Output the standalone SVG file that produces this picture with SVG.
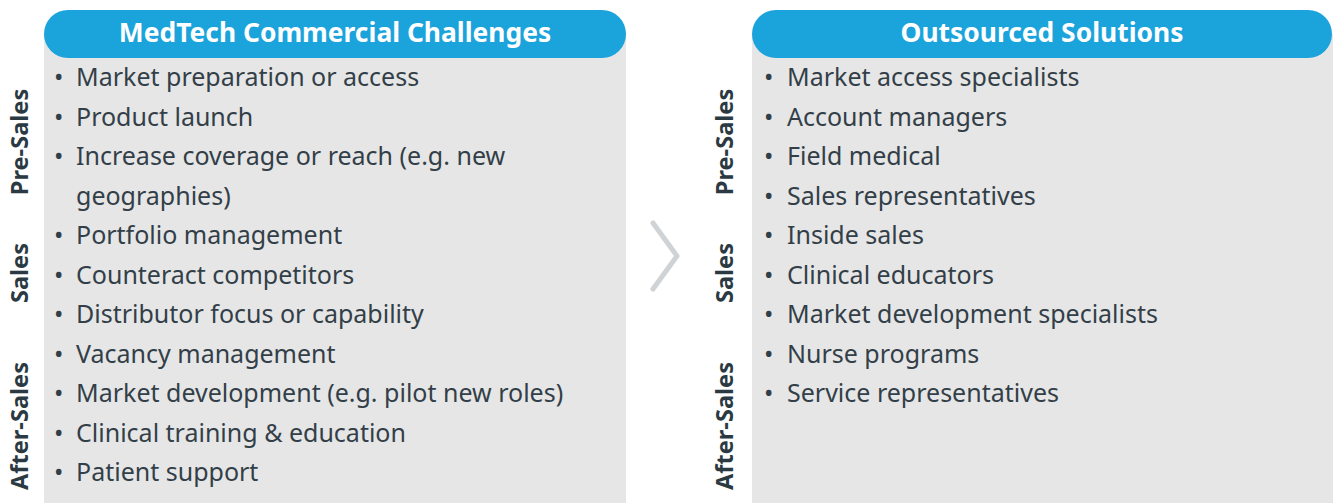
<svg xmlns="http://www.w3.org/2000/svg" width="1333" height="503" viewBox="0 0 1333 503">
<style>
.body{fill:#e6e6e6}
.pill{fill:#1ba3dc}
.hdr{font-family:"Noto Sans","Open Sans",sans-serif;font-weight:bold;font-size:26.4px;fill:#ffffff;text-anchor:middle}
.item{font-family:"Noto Sans","Open Sans",sans-serif;font-size:25px;fill:#333f48}
.side{font-family:"Noto Sans","Open Sans",sans-serif;font-weight:bold;font-size:23.6px;fill:#2b3a42;text-anchor:middle}
</style>
<rect width="1333" height="503" fill="#ffffff"/>
<g id="challenges">
<rect class="body" x="44" y="34" width="582" height="469"/>
<rect class="pill" x="44" y="10" width="582" height="48" rx="24"/>
<text class="hdr" x="335" y="42">MedTech Commercial Challenges</text>
<text class="item" x="54" y="86">•</text><text class="item" x="76" y="86">Market preparation or access</text>
<text class="item" x="54" y="126">•</text><text class="item" x="76" y="126">Product launch</text>
<text class="item" x="54" y="165">•</text><text class="item" x="76" y="165">Increase coverage or reach (e.g. new</text>
<text class="item" x="76" y="205">geographies)</text>
<text class="item" x="54" y="244">•</text><text class="item" x="76" y="244">Portfolio management</text>
<text class="item" x="54" y="284">•</text><text class="item" x="76" y="284">Counteract competitors</text>
<text class="item" x="54" y="323">•</text><text class="item" x="76" y="323">Distributor focus or capability</text>
<text class="item" x="54" y="363">•</text><text class="item" x="76" y="363">Vacancy management</text>
<text class="item" x="54" y="402">•</text><text class="item" x="76" y="402">Market development (e.g. pilot new roles)</text>
<text class="item" x="54" y="442">•</text><text class="item" x="76" y="442">Clinical training &amp; education</text>
<text class="item" x="54" y="481">•</text><text class="item" x="76" y="481">Patient support</text>
</g>
<g id="left-labels">
<text class="side" transform="translate(28,142) rotate(-90)">Pre-Sales</text>
<text class="side" transform="translate(28,273) rotate(-90)">Sales</text>
<text class="side" transform="translate(28,426) rotate(-90)">After-Sales</text>
</g>
<g id="connectors">
<polyline points="653,223 677,256 653,289" fill="none" stroke="#d0d3d5" stroke-width="5" stroke-linecap="round" stroke-linejoin="round"/>
</g>
<g id="solutions">
<rect class="body" x="752" y="34" width="581" height="469"/>
<rect class="pill" x="752" y="10" width="580" height="48" rx="24"/>
<text class="hdr" x="1042" y="42">Outsourced Solutions</text>
<text class="item" x="764" y="86">•</text><text class="item" x="787" y="86">Market access specialists</text>
<text class="item" x="764" y="126">•</text><text class="item" x="787" y="126">Account managers</text>
<text class="item" x="764" y="165">•</text><text class="item" x="787" y="165">Field medical</text>
<text class="item" x="764" y="205">•</text><text class="item" x="787" y="205">Sales representatives</text>
<text class="item" x="764" y="244">•</text><text class="item" x="787" y="244">Inside sales</text>
<text class="item" x="764" y="284">•</text><text class="item" x="787" y="284">Clinical educators</text>
<text class="item" x="764" y="323">•</text><text class="item" x="787" y="323">Market development specialists</text>
<text class="item" x="764" y="363">•</text><text class="item" x="787" y="363">Nurse programs</text>
<text class="item" x="764" y="402">•</text><text class="item" x="787" y="402">Service representatives</text>
</g>
<g id="right-labels">
<text class="side" transform="translate(733,142) rotate(-90)">Pre-Sales</text>
<text class="side" transform="translate(733,273) rotate(-90)">Sales</text>
<text class="side" transform="translate(733,426) rotate(-90)">After-Sales</text>
</g>
</svg>
